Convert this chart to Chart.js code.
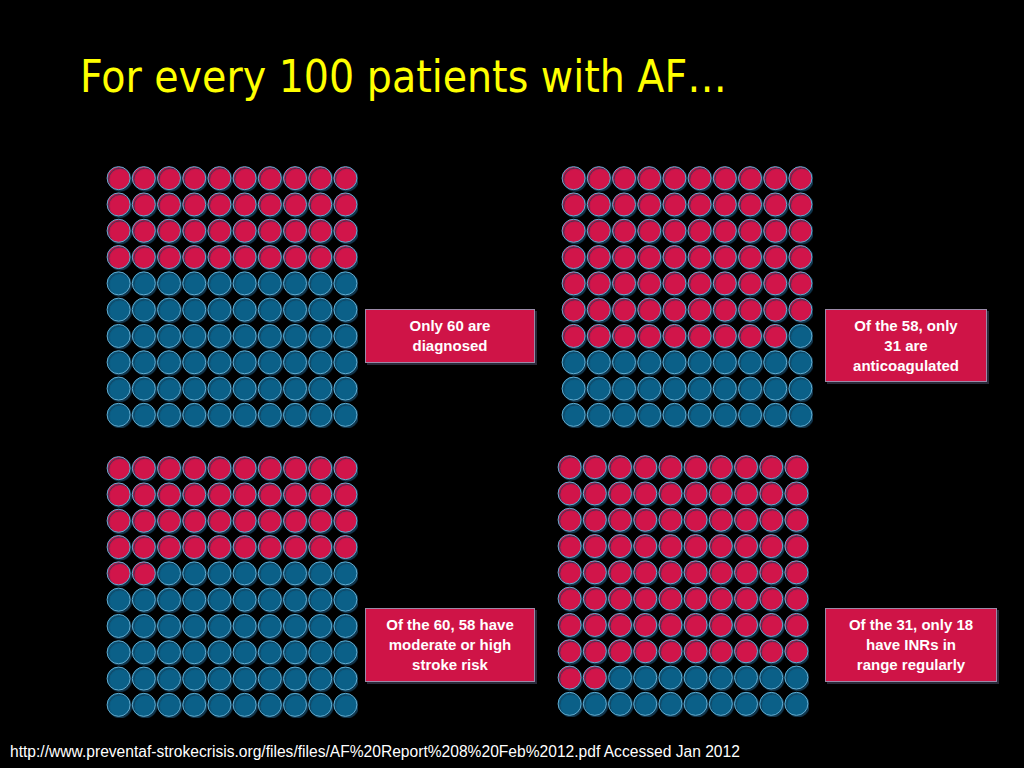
<!DOCTYPE html>
<html>
<head>
<meta charset="utf-8">
<script src="https://cdn.jsdelivr.net/npm/chart.js@4/dist/chart.umd.min.js"></script>
<style>
  html, body { margin: 0; padding: 0; background: #000; }
  #slide { position: relative; width: 1024px; height: 768px; background: #000; overflow: hidden; }
  h1 {
    position: absolute; left: 80px; top: 51px; margin: 0;
    font-family: "DejaVu Sans Condensed", "DejaVu Sans", sans-serif;
    font-weight: normal; font-size: 44px; color: #ffff00; white-space: nowrap;
  }
  .grid { position: absolute; width: 252px; height: 263px; }
  .grid canvas { display: block; }
  .box {
    position: absolute; box-sizing: border-box;
    background: #cf1447; color: #fff;
    border: 1px solid #9c8aa8;
    box-shadow: 2px 2px 0 #2a2a3a;
    font-family: "Liberation Sans", Arial, sans-serif; font-weight: bold;
    font-size: 15px; line-height: 20px; text-align: center;
    display: flex; align-items: center; justify-content: center;
  }
  #source {
    position: absolute; left: 10px; top: 743px;
    font-family: "Liberation Sans", Arial, sans-serif; font-size: 15.6px; color: #fff; white-space: nowrap;
  }
</style>
</head>
<body>
<div id="slide">
  <h1>For every 100 patients with AF…</h1>

  <div class="grid" style="left:106px; top:165px;"><canvas id="g0" width="252" height="263"></canvas></div>
  <div class="grid" style="left:561px; top:165px;"><canvas id="g1" width="252" height="263"></canvas></div>
  <div class="grid" style="left:106px; top:455px;"><canvas id="g2" width="252" height="263"></canvas></div>
  <div class="grid" style="left:557px; top:454px;"><canvas id="g3" width="252" height="263"></canvas></div>

  <div class="box" style="left:365px; top:309px; width:170px; height:54px;">Only 60 are<br>diagnosed</div>
  <div class="box" style="left:825px; top:309px; width:162px; height:73px;">Of the 58, only<br>31 are<br>anticoagulated</div>
  <div class="box" style="left:365px; top:608px; width:170px; height:74px;">Of the 60, 58 have<br>moderate or high<br>stroke risk</div>
  <div class="box" style="left:825px; top:608px; width:172px; height:74px;">Of the 31, only 18<br>have INRs in<br>range regularly</div>

  <div id="source">http://www.preventaf-strokecrisis.org/files/files/AF%20Report%208%20Feb%2012.pdf Accessed Jan 2012</div>
</div>

<script>
// each panel is 100 patients in a 10 x 10 grid, filled row by row from the top left
const panels = ["diagnosed", "anticoagulated", "stroke risk", "INR in range"];
const redCounts = [40, 69, 42, 82];
const blueCounts = [60, 31, 58, 18];

const gridCols = 10;
const gridRows = 10;

const redColour = "#d1154a";
const blueColour = "#0b6088";
const rimColour = "#62acd0";

const cellsFor = (start, count) => {
    const cells = [];
    for (let i = start; i < start + count; i++) {
        cells.push({ x: i % gridCols, y: Math.floor(i / gridCols) });
    }
    return cells;
};

const shadowPlugin = {
    id: "shadow",
    beforeDatasetsDraw(chart) {
        const ctx = chart.ctx;
        ctx.save();
        ctx.shadowColor = "rgba(20, 60, 85, 0.95)";
        ctx.shadowOffsetX = 1.5;
        ctx.shadowOffsetY = 1.5;
        ctx.shadowBlur = 1;
    },
    afterDatasetsDraw(chart) {
        chart.ctx.restore();
    }
};

panels.forEach((name, p) => {
    new Chart(document.getElementById("g" + p), {
        type: "scatter",
        data: {
            datasets: [
                {
                    label: "red",
                    data: cellsFor(0, redCounts[p]),
                    backgroundColor: redColour,
                    borderColor: rimColour,
                    borderWidth: 1,
                    pointRadius: 11.5,
                    pointHoverRadius: 11.5,
                    clip: false
                },
                {
                    label: "blue",
                    data: cellsFor(redCounts[p], blueCounts[p]),
                    backgroundColor: blueColour,
                    borderColor: rimColour,
                    borderWidth: 1,
                    pointRadius: 11.5,
                    pointHoverRadius: 11.5,
                    clip: false
                }
            ]
        },
        options: {
            responsive: false,
            animation: false,
            maintainAspectRatio: false,
            layout: { padding: 0, autoPadding: false },
            plugins: {
                legend: { display: false },
                tooltip: { enabled: false }
            },
            scales: {
                x: { type: "linear", min: -0.5, max: gridCols - 0.5, display: false },
                y: { type: "linear", min: -0.5, max: gridRows - 0.5, reverse: true, display: false }
            }
        },
        plugins: [shadowPlugin]
    });
});
</script>
</body>
</html>
